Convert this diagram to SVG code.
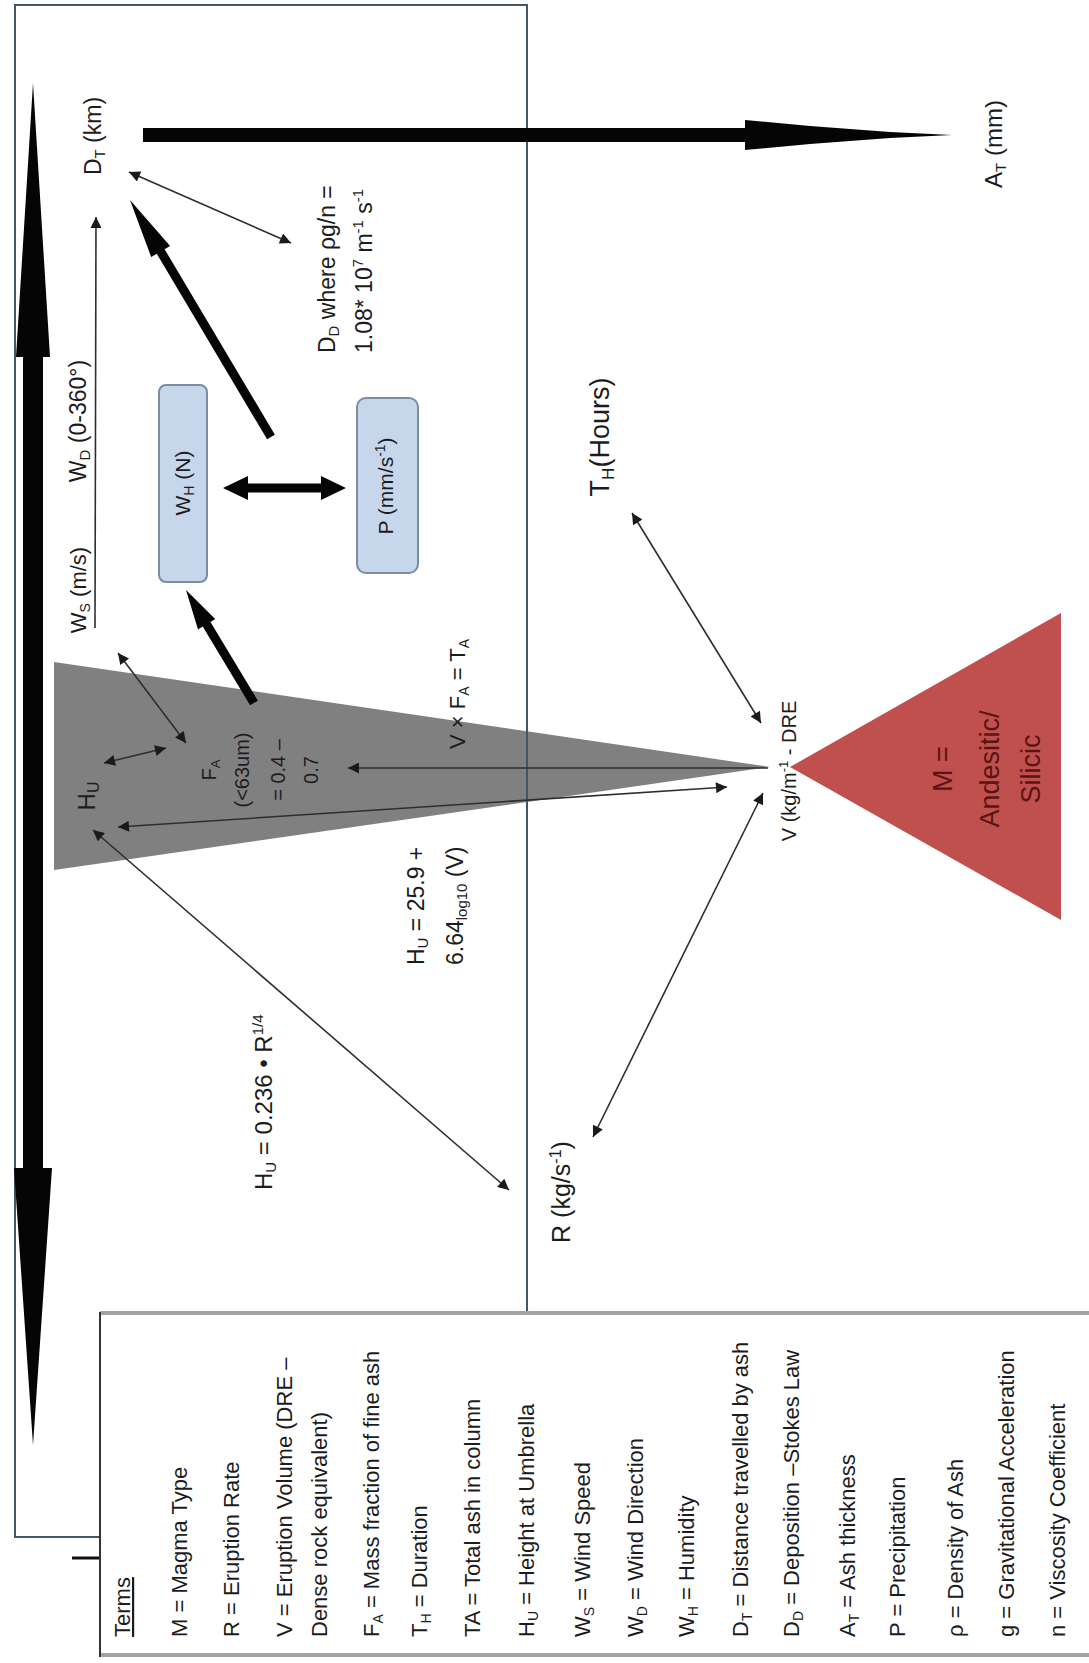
<svg xmlns="http://www.w3.org/2000/svg" width="1089" height="1663" viewBox="0 0 1089 1663">
<defs>
<style>
text { font-family: "Liberation Sans", Arial, sans-serif; fill: #1c1c1c; }
.thin { stroke: #2e2e2e; stroke-width: 1.6; fill: none; }
.dbl { marker-start: url(#ah); marker-end: url(#ah); }
.one { marker-end: url(#ah); }
.thick { fill: #050505; }
.box { fill: #c6d6eb; stroke: #7b8ca5; stroke-width: 2; }
.lg { font-size: 22px; }
.mag { fill: #5a1414; font-size: 27px; }
</style>
<marker id="ah" viewBox="0 0 10 10" refX="10" refY="5" markerWidth="14" markerHeight="11" markerUnits="userSpaceOnUse" orient="auto-start-reverse">
<path d="M0,0 L10,5 L0,10 z" fill="#1a1a1a"/>
</marker>
</defs>
<rect width="1089" height="1663" fill="#ffffff"/>

<g id="plume">
<polygon points="54,662 770,767 54,870" fill="#808080"/>
</g>

<g id="magma">
<polygon points="790,767 1061,613 1061,920" fill="#c0504d"/>
<text class="mag" transform="translate(952,769) rotate(-90)" text-anchor="middle">M =</text>
<text class="mag" transform="translate(999,769) rotate(-90)" text-anchor="middle">Andesitic/</text>
<text class="mag" transform="translate(1040,769) rotate(-90)" text-anchor="middle">Silicic</text>
</g>

<g id="frame">
<rect x="15" y="5" width="512" height="1532" fill="none" stroke="#44546a" stroke-width="2"/>
</g>

<g id="connectors">
<polygon class="thick" points="33,83 50,357 43,357 43,1168 52,1168 33,1445 14,1168 23,1168 23,357 16,357"/>
<polygon class="thick" points="143,128 745,128 745,120 810,126 890,132 952,135 890,138 810,144 745,150 745,142 143,142"/>
<polygon class="thick" points="274.9,434.7 164.6,249.2 170.1,245.9 130,200 151.2,257.1 156.8,253.8 267.1,439.3"/>
<polygon class="thick" points="257.9,700.7 210.5,622 215.2,619.1 186,590 198,629.5 202.7,626.6 250.1,705.3"/>
<polygon class="thick" points="223,488 248,476 248,483.5 321,483.5 321,476 346,488 321,500 321,492.5 248,492.5 248,500"/>
<path class="thin dbl" d="M129,172 L291,243"/>
<path class="thin one" d="M95,628 L96,217"/>
<path class="thin dbl" d="M118,653 L186,743"/>
<path class="thin dbl" d="M104,763 L166,748"/>
<path class="thin one" d="M768,768 L348,768"/>
<path class="thin dbl" d="M118,827 L727,787"/>
<path class="thin dbl" d="M93,830 L509,1190"/>
<path class="thin dbl" d="M593,1137 L763,793"/>
<path class="thin dbl" d="M632,513 L761,723"/>
<line x1="72" y1="1558" x2="100" y2="1558" stroke="#111" stroke-width="3"/>
</g>

<g id="n-DT">
<text font-size="23" transform="translate(101,136) rotate(-90)" text-anchor="middle">D<tspan font-size="15" dy="4">T</tspan><tspan dy="-4"> (km)</tspan></text>
</g>
<g id="n-AT">
<text font-size="24" transform="translate(1002,144) rotate(-90)" text-anchor="middle">A<tspan font-size="15" dy="4">T</tspan><tspan dy="-4"> (mm)</tspan></text>
</g>
<g id="n-DD">
<text font-size="23" transform="translate(335,353) rotate(-90)">D<tspan font-size="15" dy="4">D</tspan><tspan dy="-4"> where ρg/n =</tspan></text>
<text font-size="23" transform="translate(372,353) rotate(-90)">1.08* 10<tspan font-size="15" dy="-9">7</tspan><tspan dy="9"> m</tspan><tspan font-size="15" dy="-9">-1</tspan><tspan dy="9"> s</tspan><tspan font-size="15" dy="-9">-1</tspan></text>
</g>
<g id="n-WD">
<text font-size="23" transform="translate(86,421) rotate(-90)" text-anchor="middle">W<tspan font-size="15" dy="4">D</tspan><tspan dy="-4"> (0-360°)</tspan></text>
</g>
<g id="n-WS">
<text font-size="22" transform="translate(86,590) rotate(-90)" text-anchor="middle">W<tspan font-size="14" dy="4">S</tspan><tspan dy="-4"> (m/s)</tspan></text>
</g>
<g id="n-WH">
<rect class="box" x="159" y="385" width="48" height="197" rx="7"/>
<text font-size="21" transform="translate(190,483) rotate(-90)" text-anchor="middle">W<tspan font-size="14" dy="4">H</tspan><tspan dy="-4"> (N)</tspan></text>
</g>
<g id="n-P">
<rect class="box" x="357" y="398" width="61" height="175" rx="9"/>
<text font-size="21" transform="translate(393,486) rotate(-90)" text-anchor="middle">P (mm/s<tspan font-size="14" dy="-8">-1</tspan><tspan dy="8">)</tspan></text>
</g>
<g id="n-HU">
<text font-size="24" transform="translate(95,796) rotate(-90)" text-anchor="middle">H<tspan font-size="16" dy="4">U</tspan></text>
</g>
<g id="n-FA">
<text font-size="20" transform="translate(216,770) rotate(-90)" text-anchor="middle">F<tspan font-size="13" dy="4">A</tspan></text>
<text font-size="20" transform="translate(249,770) rotate(-90)" text-anchor="middle">(&lt;63um)</text>
<text font-size="20" transform="translate(285,770) rotate(-90)" text-anchor="middle">= 0.4 –</text>
<text font-size="20" transform="translate(318,770) rotate(-90)" text-anchor="middle">0.7</text>
</g>
<g id="n-TA">
<text font-size="22" transform="translate(465,694) rotate(-90)" text-anchor="middle">V × F<tspan font-size="14" dy="4">A</tspan><tspan dy="-4"> = T</tspan><tspan font-size="14" dy="4">A</tspan></text>
</g>
<g id="n-HU-V">
<text font-size="23" transform="translate(424,965) rotate(-90)">H<tspan font-size="15" dy="4">U</tspan><tspan dy="-4"> = 25.9 +</tspan></text>
<text font-size="23" transform="translate(463,965) rotate(-90)">6.64<tspan font-size="15" dy="4">log10</tspan><tspan dy="-4"> (V)</tspan></text>
</g>
<g id="n-HU-R">
<text font-size="24" transform="translate(272,1190) rotate(-90)">H<tspan font-size="15" dy="4">U</tspan><tspan dy="-4"> = 0.236 • R</tspan><tspan font-size="15" dy="-9">1/4</tspan></text>
</g>
<g id="n-R">
<text font-size="25" transform="translate(570,1192) rotate(-90)" text-anchor="middle">R (kg/s<tspan font-size="16" dy="-9">-1</tspan><tspan dy="9">)</tspan></text>
</g>
<g id="n-TH">
<text font-size="27" transform="translate(609,437) rotate(-90)" text-anchor="middle">T<tspan font-size="17" dy="5">H</tspan><tspan dy="-5">(Hours)</tspan></text>
</g>
<g id="n-V">
<text font-size="20" transform="translate(796,771) rotate(-90)" text-anchor="middle">V (kg/m<tspan font-size="13" dy="-8">-1</tspan><tspan dy="8"> - DRE</tspan></text>
</g>

<g id="legend">
<rect x="100" y="1313" width="995" height="342" fill="#ffffff"/>
<line x1="100" y1="1313" x2="1089" y2="1313" stroke="#a3a3a3" stroke-width="4"/>
<line x1="100" y1="1655" x2="1089" y2="1655" stroke="#a3a3a3" stroke-width="4"/>
<line x1="100" y1="1312" x2="100" y2="1657" stroke="#333" stroke-width="2"/>
<text class="lg" text-decoration="underline" transform="translate(130,1637) rotate(-90)">Terms</text>
<text class="lg" transform="translate(187,1637) rotate(-90)">M = Magma Type</text>
<text class="lg" transform="translate(239,1637) rotate(-90)">R = Eruption Rate</text>
<text class="lg" transform="translate(292,1637) rotate(-90)">V = Eruption Volume (DRE –</text>
<text class="lg" transform="translate(327,1637) rotate(-90)">Dense rock equivalent)</text>
<text class="lg" transform="translate(379,1637) rotate(-90)">F<tspan font-size="14" dy="4">A</tspan><tspan dy="-4"> = Mass fraction of fine ash</tspan></text>
<text class="lg" transform="translate(427,1637) rotate(-90)">T<tspan font-size="14" dy="4">H</tspan><tspan dy="-4"> = Duration</tspan></text>
<text class="lg" transform="translate(480,1637) rotate(-90)">TA = Total ash in column</text>
<text class="lg" transform="translate(534,1637) rotate(-90)">H<tspan font-size="14" dy="4">U</tspan><tspan dy="-4"> = Height at Umbrella</tspan></text>
<text class="lg" transform="translate(590,1637) rotate(-90)">W<tspan font-size="14" dy="4">S</tspan><tspan dy="-4"> = Wind Speed</tspan></text>
<text class="lg" transform="translate(643,1637) rotate(-90)">W<tspan font-size="14" dy="4">D</tspan><tspan dy="-4"> = Wind Direction</tspan></text>
<text class="lg" transform="translate(694,1637) rotate(-90)">W<tspan font-size="14" dy="4">H</tspan><tspan dy="-4"> = Humidity</tspan></text>
<text class="lg" transform="translate(748,1637) rotate(-90)">D<tspan font-size="14" dy="4">T</tspan><tspan dy="-4"> = Distance travelled by ash</tspan></text>
<text class="lg" transform="translate(799,1637) rotate(-90)">D<tspan font-size="14" dy="4">D</tspan><tspan dy="-4"> = Deposition –Stokes Law</tspan></text>
<text class="lg" transform="translate(855,1637) rotate(-90)">A<tspan font-size="14" dy="4">T</tspan><tspan dy="-4"> = Ash thickness</tspan></text>
<text class="lg" transform="translate(905,1637) rotate(-90)">P = Precipitation</text>
<text class="lg" transform="translate(963,1637) rotate(-90)">ρ = Density of Ash</text>
<text class="lg" transform="translate(1014,1637) rotate(-90)">g = Gravitational Acceleration</text>
<text class="lg" transform="translate(1065,1637) rotate(-90)">n = Viscosity Coefficient</text>
</g>
</svg>
